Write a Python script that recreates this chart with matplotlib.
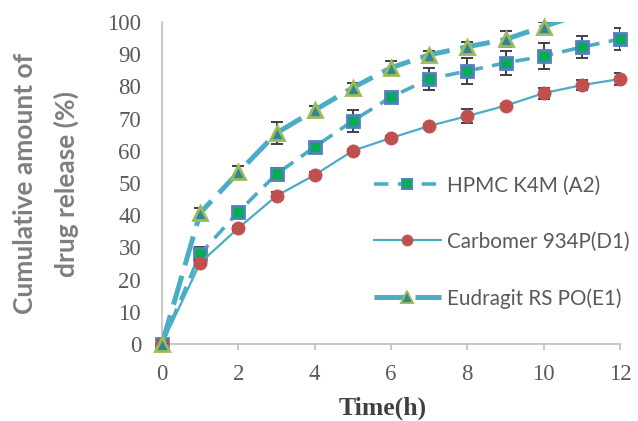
import numpy as np
import matplotlib
matplotlib.use("Agg")
import matplotlib.pyplot as plt

# Release profile data (time in hours, cumulative release in %)
time_h = [0, 1, 2, 3, 4, 5, 6, 7, 8, 9, 10, 11, 12]

hpmc = [0, 28.0, 41.0, 52.8, 61.2, 69.3, 76.7, 82.3, 84.8, 87.3, 89.4, 92.2, 94.7]
hpmc_err = [0, 2.2, 1.0, 2.0, 1.0, 3.4, 1.0, 3.4, 4.0, 3.7, 4.0, 3.3, 3.4]

carbomer = [0, 25.2, 36.0, 46.0, 52.5, 60.0, 64.0, 67.7, 70.8, 74.0, 77.9, 80.4, 82.3]
carbomer_err = [0, 0.8, 0.8, 1.2, 0.8, 0.6, 0.6, 0.6, 2.3, 0.5, 1.7, 1.5, 1.9]

eudragit = [0, 40.7, 53.3, 65.5, 72.6, 79.6, 85.8, 89.8, 92.3, 94.6, 98.6, 102.5, 104.5]
eudragit_err = [0, 1.5, 2.0, 3.4, 1.3, 1.5, 2.0, 1.3, 1.5, 2.5, 1.3, 2.2, 2.0]

labels = ["HPMC K4M (A2)", "Carbomer 934P(D1)", "Eudragit RS PO(E1)"]
x_ticks = [0, 2, 4, 6, 8, 10, 12]
y_ticks = [0, 10, 20, 30, 40, 50, 60, 70, 80, 90, 100]

LINE = "#4BACC6"
ERR = "#404040"
W, H = 638, 421
PX = 72.0 / 100.0  # points per pixel at dpi 100

fig = plt.figure(figsize=(W / 100, H / 100), dpi=100)
ax = fig.add_axes([162 / W, 1 - 344 / H, (620 - 162) / W, (344 - 22) / H])

series = [
    dict(y=hpmc, err=hpmc_err, ls=(0, (4, 2.6)), lw=2.6, marker="s", ms=9.0,
         mfc="#00B050", mec="#4F81BD", mew=2.0),
    dict(y=carbomer, err=carbomer_err, ls="-", lw=1.6, marker="o", ms=9.5,
         mfc="#C0504D", mec="#C0504D", mew=0.5),
    dict(y=eudragit, err=eudragit_err, ls=(0, (6, 2.2)), lw=3.6, marker="^", ms=10.5,
         mfc="#31849B", mec="#9BBB59", mew=2.0),
]

t = np.array(time_h, dtype=float)
handles = []
for i, s in enumerate(series):
    y = np.array(s["y"], dtype=float)
    e = np.array(s["err"], dtype=float)
    z = 3 + i
    ax.errorbar(t, y, yerr=e, fmt="none", ecolor=ERR, elinewidth=1.4,
                capsize=4.3, capthick=1.4, zorder=z)
    ax.plot(t, y, color=LINE, ls=s["ls"], lw=s["lw"], zorder=z + 0.1,
            solid_capstyle="butt", dash_capstyle="butt")
    vis = y <= 100
    ax.plot(t[vis], y[vis], ls="none", marker=s["marker"], ms=s["ms"],
            mfc=s["mfc"], mec=s["mec"], mew=s["mew"], clip_on=False, zorder=z + 0.2)
    h, = ax.plot([], [], color=LINE, ls=s["ls"], lw=s["lw"], marker=s["marker"],
                 ms=s["ms"] * 0.85, mfc=s["mfc"], mec=s["mec"], mew=s["mew"] * 0.7)
    handles.append(h)

ax.set_xlim(0, 12)
ax.set_ylim(0, 100)
ax.set_xticks(x_ticks)
ax.set_yticks(y_ticks)

for side in ("top", "right"):
    ax.spines[side].set_visible(False)
for side in ("left", "bottom"):
    ax.spines[side].set_color("#BFBFBF")
    ax.spines[side].set_linewidth(1.2)

ax.tick_params(axis="y", length=0, pad=15, labelcolor="#595959")
ax.tick_params(axis="x", length=6 * PX, width=1.2, color="#BFBFBF", pad=10,
               labelcolor="#595959", direction="out")
for lab in ax.get_xticklabels() + ax.get_yticklabels():
    lab.set_fontfamily("Liberation Serif")
    lab.set_fontsize(16.5)

fig.text(383 / W, 1 - 408 / H, "Time(h)", ha="center", va="center",
         fontfamily="Liberation Serif", fontweight="bold", fontsize=18.5,
         color="#404040")

fig.text(46 / W, 1 - 184 / H, "Cumulative amount of\ndrug release (%)",
         rotation=90, ha="center", va="center", multialignment="center",
         fontfamily="Lato", fontweight="bold", fontsize=19, color="#7F7F7F",
         linespacing=1.8)

leg = fig.legend(handles, labels, loc="center left",
                 bbox_to_anchor=(364 / W, 1 - 242 / H), frameon=False,
                 borderpad=0, handlelength=3.2, handletextpad=0.3,
                 labelspacing=1.75,
                 prop=dict(family="Lato", size=14.9))
for txt in leg.get_texts():
    txt.set_color("#595959")

fig.savefig("out.png", dpi=100)
